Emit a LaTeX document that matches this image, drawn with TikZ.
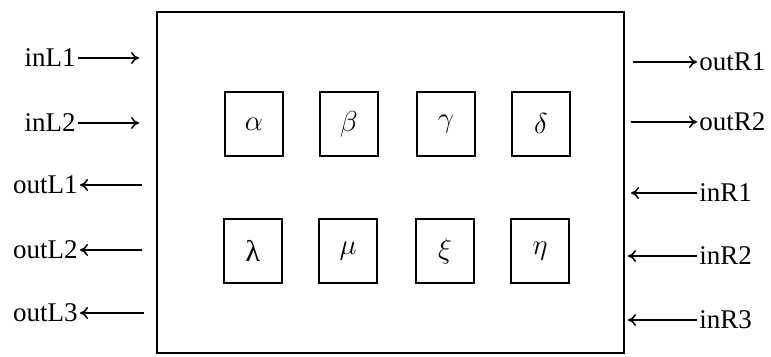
\documentclass[tikz,border=0pt]{standalone}
\usepackage{fontspec}
\setmainfont{Liberation Serif}
\usetikzlibrary{arrows.meta,positioning}

\tikzset{
  fn/.style={draw,line width=1pt,minimum width=29pt,minimum height=32pt,inner sep=0pt,font=\fontsize{15}{16}\selectfont},
  sig/.style={inner sep=1pt},
  wire/.style={line width=0.75pt,-{To[length=4pt,width=6pt]}}
}

\begin{document}
\begin{tikzpicture}[x=0.5pt,y=-0.5pt,font=\fontsize{13.5}{16}\selectfont]
\useasboundingbox (0,0) rectangle (771,357);
% outer box
\node[draw,line width=1.3pt,minimum width=233.5pt,minimum height=170.5pt,inner sep=0pt] (sys) at (390.5,182.5) {};
% inner blocks
\node[fn] (alpha) at (254,124) {$\alpha$};
\node[fn] (beta)  at (349,124) {$\beta$};
\node[fn] (gamma) at (446,124) {$\gamma$};
\node[fn] (delta) at (541,124) {$\delta$};
\node[fn] (lambda) at (253,251) {λ};
\node[fn] (mu)     at (348,251) {$\mu$};
\node[fn] (xi)     at (445,251) {$\xi$};
\node[fn] (eta)    at (540,251) {$\eta$};
% left side
\node[sig,anchor=east] (inL1)  at (78,58)  {inL1};
\node[sig,anchor=east] (inL2)  at (78,123) {inL2};
\node[sig,anchor=east] (outL1) at (80,185) {outL1};
\node[sig,anchor=east] (outL2) at (80,250) {outL2};
\node[sig,anchor=east] (outL3) at (80,313) {outL3};
\coordinate (pL1) at (139,58);
\coordinate (pL2) at (139,123);
\coordinate (pL3) at (142,185);
\coordinate (pL4) at (142,250);
\coordinate (pL5) at (144,313);
\draw[wire] (inL1) -- (pL1);
\draw[wire] (inL2) -- (pL2);
\draw[wire] (pL3) -- (outL1);
\draw[wire] (pL4) -- (outL2);
\draw[wire] (pL5) -- (outL3);
% right side
\node[sig,anchor=west] (outR1) at (697,62)  {outR1};
\node[sig,anchor=west] (outR2) at (697,122) {outR2};
\node[sig,anchor=west] (inR1)  at (697,193) {inR1};
\node[sig,anchor=west] (inR2)  at (697,256) {inR2};
\node[sig,anchor=west] (inR3)  at (697,320) {inR3};
\coordinate (pR1) at (633,62);
\coordinate (pR2) at (631,122);
\coordinate (pR3) at (631,193);
\coordinate (pR4) at (628,256);
\coordinate (pR5) at (628,320);
\draw[wire] (pR1) -- (outR1);
\draw[wire] (pR2) -- (outR2);
\draw[wire] (inR1) -- (pR3);
\draw[wire] (inR2) -- (pR4);
\draw[wire] (inR3) -- (pR5);
\end{tikzpicture}
\end{document}
